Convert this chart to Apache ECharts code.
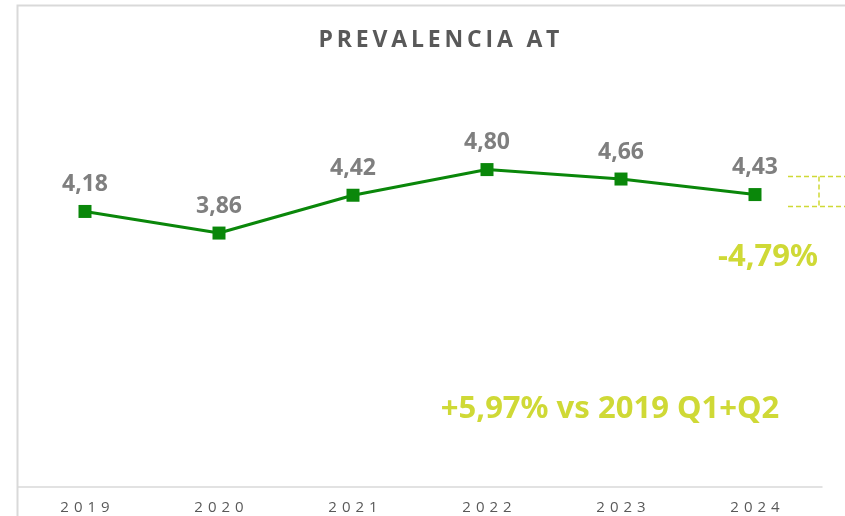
<!DOCTYPE html>
<html>
<head>
<meta charset="utf-8">
<script src="https://cdn.jsdelivr.net/npm/echarts@6/dist/echarts.min.js"></script>
<style>
  html, body { margin: 0; padding: 0; background: #fff; }
  #chart { width: 845px; height: 516px; }
</style>
</head>
<body>
<div id="chart"></div>
<script>
const years = ['2019', '2020', '2021', '2022', '2023', '2024']
const prevalence = [4.18, 3.86, 4.42, 4.80, 4.66, 4.43]
const titleText = 'PREVALENCIA AT'
const changeText = '-4,79%'
const vsText = '+5,97% vs 2019 Q1+Q2'

const green = '#0a870a'
const lime = '#cfd936'
const frameGray = '#d9d9d9'

// spread letters a little, like the original
const spaced = (s, gap) => s.split('').join(gap)

const chart = echarts.init(document.getElementById('chart'))

const option = {
  animation: false,
  title: {
    text: spaced(titleText, '\u2009'),
    left: 434,
    top: 24,
    textAlign: 'center',
    textStyle: {
      fontFamily: 'Open Sans',
      fontSize: 23,
      fontWeight: 'bold',
      color: '#595959'
    }
  },
  grid: { left: 18, right: 23, top: 21, bottom: 29 },
  xAxis: {
    type: 'category',
    data: years,
    boundaryGap: true,
    axisLine: { lineStyle: { color: frameGray, width: 1.5 } },
    axisTick: { show: false },
    axisLabel: {
      margin: 13,
      fontFamily: 'Open Sans',
      fontSize: 15,
      color: '#595959',
      formatter: v => spaced(v, '\u2004')
    }
  },
  yAxis: {
    type: 'value',
    min: 0.1,
    max: 7,
    show: false,
    splitLine: { show: false }
  },
  series: [
    {
      type: 'line',
      data: prevalence,
      symbol: 'rect',
      symbolSize: 13,
      lineStyle: { color: green, width: 3 },
      itemStyle: { color: green },
      label: {
        show: true,
        position: 'top',
        distance: 9,
        fontFamily: 'Noto Sans',
        fontSize: 23,
        fontWeight: 'bold',
        color: '#7f7f7f',
        formatter: p => p.value.toFixed(2).replace('.', ',')
      }
    }
  ],
  graphic: [
    {
      type: 'rect',
      silent: true,
      shape: { x: 17.5, y: 5.5, width: 900, height: 600 },
      style: { fill: 'none', stroke: frameGray, lineWidth: 2 }
    },
    {
      type: 'polyline',
      silent: true,
      shape: { points: [[788, 176.5], [845, 176.5]] },
      style: { stroke: lime, lineWidth: 1.5, lineDash: [5, 3], fill: 'none' }
    },
    {
      type: 'polyline',
      silent: true,
      shape: { points: [[788, 206.5], [845, 206.5]] },
      style: { stroke: lime, lineWidth: 1.5, lineDash: [5, 3], fill: 'none' }
    },
    {
      type: 'polyline',
      silent: true,
      shape: { points: [[819, 176.5], [819, 206.5]] },
      style: { stroke: lime, lineWidth: 1.5, lineDash: [5, 3], fill: 'none' }
    },
    {
      type: 'text',
      silent: true,
      style: {
        x: 768, y: 257,
        text: changeText,
        align: 'center',
        verticalAlign: 'middle',
        font: 'bold 31px "Noto Sans"',
        fill: lime
      }
    },
    {
      type: 'text',
      silent: true,
      style: {
        x: 610, y: 409,
        text: vsText,
        align: 'center',
        verticalAlign: 'middle',
        font: 'bold 31px "Noto Sans"',
        fill: lime
      }
    }
  ]
}

chart.setOption(option)
</script>
</body>
</html>
